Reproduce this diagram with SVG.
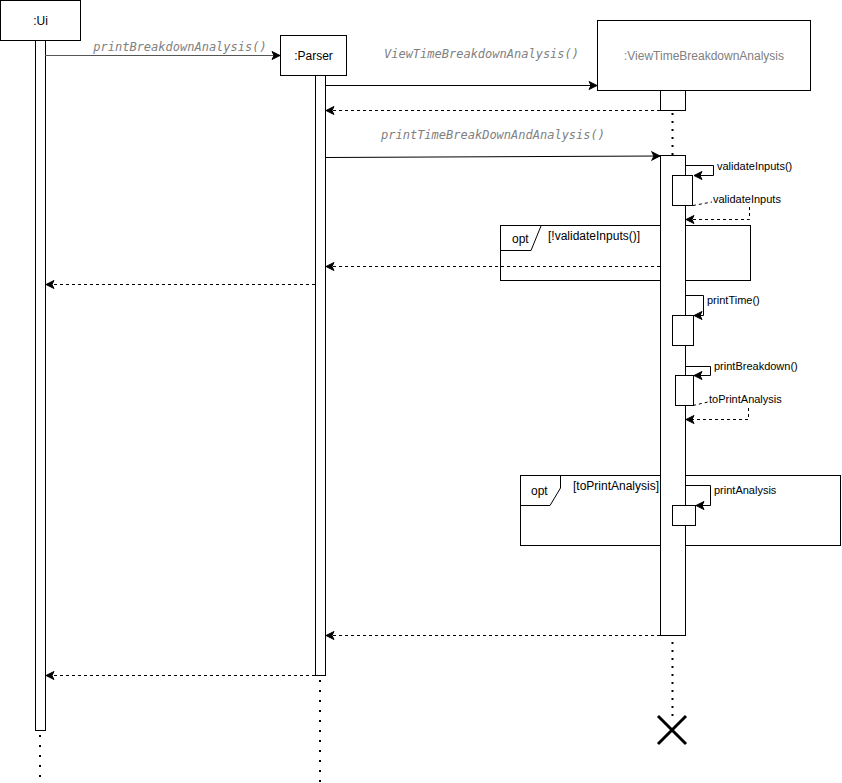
<svg xmlns="http://www.w3.org/2000/svg" width="842" height="783" viewBox="0 0 842 783">
<style>
.box{fill:#fff;stroke:#000;stroke-width:1}
.bar{fill:#fff;stroke:#000;stroke-width:1}
.life{stroke:#000;stroke-width:2;stroke-dasharray:2 8;fill:none}
.life2{stroke:#000;stroke-width:2;stroke-dasharray:2 6;fill:none}
.msg{stroke:#000;stroke-width:1;fill:none;marker-end:url(#arr)}
.ret{stroke:#000;stroke-width:1;fill:none;stroke-dasharray:3 3;marker-end:url(#arr)}
.retn{stroke:#000;stroke-width:1;fill:none;stroke-dasharray:3 3}
.lbl{font-family:"Liberation Sans",Arial,sans-serif;font-size:12px;fill:#000}
.mono{font-family:"DejaVu Sans Mono",monospace;font-size:12px;font-style:italic;fill:#808080}
.sm{font-family:"Liberation Sans",Arial,sans-serif;font-size:11px;fill:#000}
.frame{fill:none;stroke:#000;stroke-width:1}
</style>
<defs>
<marker id="arr" markerWidth="10" markerHeight="10" refX="9" refY="5" orient="auto" markerUnits="userSpaceOnUse">
<path d="M1,1 L9,5 L1,9 L3,5 Z" fill="#000" stroke="#000" stroke-width="1"/>
</marker>
</defs>

<g id="frames">
<g id="opt1">
<rect class="frame" x="500.5" y="225.5" width="250" height="55"/>
<polyline class="frame" points="500.5,250.5 531,250.5 541,226"/>
<text class="lbl" x="512" y="243">opt</text>
<text class="lbl" x="548" y="240">[!validateInputs()]</text>
</g>
<g id="opt2">
<rect class="frame" x="520.5" y="475.5" width="320" height="70"/>
<polyline class="frame" points="520.5,505.5 550,505.5 560.5,488 560.5,475.5"/>
<text class="lbl" x="531" y="495">opt</text>
<text class="lbl" x="573" y="490">[toPrintAnalysis]</text>
</g>
</g>

<g id="lifelines">
<line class="life" x1="40" y1="735" x2="40" y2="783"/>
<line class="life" x1="320" y1="680" x2="320" y2="783"/>
<line class="life2" x1="672.5" y1="113" x2="672.5" y2="155"/>
<line class="life2" x1="672.5" y1="642" x2="672.5" y2="716"/>
</g>

<g id="ui">
<rect class="box" x="0.5" y="0.5" width="80" height="40"/>
<text class="lbl" x="40.5" y="25" text-anchor="middle">:Ui</text>
<rect class="bar" x="35.5" y="40.5" width="10" height="690"/>
</g>

<g id="parser">
<rect class="box" x="280.5" y="35.5" width="66" height="40"/>
<text class="lbl" x="313.5" y="60" text-anchor="middle">:Parser</text>
<rect class="bar" x="315.5" y="75.5" width="10" height="600"/>
</g>

<g id="vtba">
<rect class="box" x="597.5" y="20.5" width="213" height="70"/>
<text class="lbl" x="704" y="60" text-anchor="middle" fill="#808080" style="fill:#808080">:ViewTimeBreakdownAnalysis</text>
<rect class="bar" x="660.5" y="90.5" width="25" height="20"/>
<rect class="bar" x="660.5" y="155.5" width="25" height="480"/>
<path d="M658,716 L686,744 M686,716 L658,744" stroke="#000" stroke-width="3" fill="none"/>
</g>

<g id="connectors">
<line class="msg" x1="45" y1="55.5" x2="280" y2="55.5" style="stroke:#555"/>
<text class="mono" x="180" y="51" text-anchor="middle">printBreakdownAnalysis()</text>

<line class="msg" x1="326" y1="85.5" x2="597" y2="85.5"/>
<text class="mono" x="481.5" y="58" text-anchor="middle">ViewTimeBreakdownAnalysis()</text>

<line class="ret" x1="660" y1="110.5" x2="326" y2="110.5"/>

<line class="msg" x1="326" y1="157.5" x2="660" y2="156"/>
<text class="mono" x="493" y="139" text-anchor="middle">printTimeBreakDownAndAnalysis()</text>

<!-- validateInputs self call -->
<path class="msg" d="M686,165.5 L713.5,165.5 L713.5,175.5 L694,175.5"/>
<text class="sm" x="717" y="170">validateInputs()</text>
<rect class="bar" x="672.5" y="175.5" width="20" height="30"/>
<path class="retn" d="M693,205.5 L712,202"/>
<text class="sm" x="713" y="203">validateInputs</text>
<path class="ret" d="M749.5,207 L749.5,219.5 L686,219.5"/>

<line class="ret" x1="660" y1="266.5" x2="326" y2="266.5"/>
<line class="ret" x1="315" y1="284.5" x2="46" y2="284.5"/>

<!-- printTime -->
<path class="msg" d="M686,295.5 L703.5,295.5 L703.5,315.5 L694,315.5"/>
<text class="sm" x="707" y="304">printTime()</text>
<rect class="bar" x="672.5" y="315.5" width="21" height="30"/>

<!-- printBreakdown -->
<path class="msg" d="M686,366.5 L710.5,366.5 L710.5,375.5 L694,375.5"/>
<text class="sm" x="714" y="370">printBreakdown()</text>
<rect class="bar" x="675.5" y="375.5" width="18" height="30"/>
<path class="retn" d="M693,405.5 L708,402"/>
<text class="sm" x="709" y="403">toPrintAnalysis</text>
<path class="ret" d="M748.5,408 L748.5,419.5 L686,419.5"/>

<!-- printAnalysis -->
<path class="msg" d="M686,485.5 L710.5,485.5 L710.5,505.5 L696,505.5"/>
<text class="sm" x="714" y="494">printAnalysis</text>
<rect class="bar" x="672.5" y="505.5" width="23" height="20"/>

<line class="ret" x1="660" y1="635.5" x2="326" y2="635.5"/>
<line class="ret" x1="315" y1="675.5" x2="46" y2="675.5"/>
</g>
</svg>
